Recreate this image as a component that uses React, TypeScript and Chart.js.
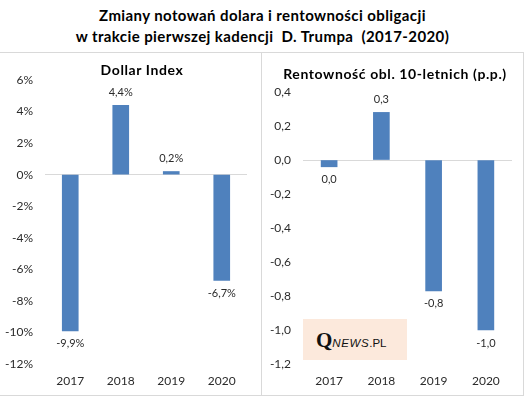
import React, { useEffect, useRef } from 'react';
import { Chart, registerables } from 'chart.js';

Chart.register(...registerables);

// ---- data ----
const years = ['2017', '2018', '2019', '2020'];
const dollarChanges = [-9.9, 4.4, 0.2, -6.7];
const yieldChanges = [-0.04, 0.28, -0.77, -1.0];
const dollarAxis = [-12, 6, 2]; // min, max, step
const yieldAxis = [-1.2, 0.4, 0.2];
const mainTitle = ['Zmiany notowań dolara i rentowności obligacji', 'w trakcie pierwszej kadencji  D. Trumpa  (2017-2020)'];
const leftTitle = 'Dollar Index';
const rightTitle = 'Rentowność obl. 10-letnich (p.p.)';

const FONT = 'Lato, "Liberation Sans", sans-serif';
const BAR = '#4F81BD';
const TXT = '#2b2b2b';
const LINE = '#D9D9D9';

const comma = (v: number, d: number) => {
  const r = Math.abs(v) < Math.pow(10, -d) / 2 ? 0 : v;
  return r.toFixed(d).replace('.', ',');
};

function makeChart(
  canvas: HTMLCanvasElement,
  values: number[],
  axis: number[],
  fmtTick: (v: number) => string,
  fmtLabel: (v: number) => string,
  pad: { top: number; right: number },
  yWidth: number
) {
  const labelPlugin = {
    id: 'valueLabels',
    afterDatasetsDraw(chart: any) {
      const { ctx } = chart;
      const meta = chart.getDatasetMeta(0);
      const data = chart.data.datasets[0].data as number[];
      ctx.save();
      ctx.font = '11px ' + FONT;
      ctx.fillStyle = TXT;
      ctx.textAlign = 'center';
      ctx.textBaseline = 'middle';
      meta.data.forEach((bar: any, i: number) => {
        const v = data[i];
        const y = v >= 0 ? bar.y - 13 : bar.y + 13;
        ctx.fillText(fmtLabel(v), bar.x, y);
      });
      ctx.restore();
    },
  };
  return new Chart(canvas, {
    type: 'bar',
    data: {
      labels: years,
      datasets: [
        {
          data: values,
          backgroundColor: BAR,
          borderWidth: 0,
          barThickness: 16,
        },
      ],
    },
    plugins: [labelPlugin],
    options: {
      responsive: false,
      animation: false,
      devicePixelRatio: 1,
      layout: { padding: { top: pad.top, right: pad.right, left: 0, bottom: 0 } },
      plugins: { legend: { display: false }, tooltip: { enabled: false }, title: { display: false } },
      scales: {
        x: {
          grid: { display: false, drawTicks: false },
          border: { display: false },
          ticks: { color: TXT, font: { family: FONT, size: 12 }, padding: 10 },
          afterFit: (s: any) => {
            s.height = 31;
          },
        },
        y: {
          min: axis[0],
          max: axis[1],
          ticks: {
            stepSize: axis[2],
            color: TXT,
            font: { family: FONT, size: 12 },
            padding: 12,
            callback: (v: any) => fmtTick(Number(v)),
          },
          grid: {
            drawTicks: false,
            color: (c: any) => (c.tick && Math.abs(c.tick.value) < 1e-9 ? LINE : 'rgba(0,0,0,0)'),
            lineWidth: 1,
          },
          border: { display: false },
          afterFit: (s: any) => {
            s.width = yWidth;
          },
        },
      },
    },
  } as any);
}

export default function App() {
  const leftRef = useRef<HTMLCanvasElement>(null);
  const rightRef = useRef<HTMLCanvasElement>(null);

  useEffect(() => {
    const a = makeChart(
      leftRef.current!,
      dollarChanges,
      dollarAxis,
      (v) => `${comma(v, 0)}%`,
      (v) => `${comma(v, 1)}%`,
      { top: 28, right: 14 },
      45
    );
    const b = makeChart(
      rightRef.current!,
      yieldChanges,
      yieldAxis,
      (v) => comma(v, 1),
      (v) => comma(v, 1),
      { top: 40, right: 11 },
      41
    );
    return () => {
      a.destroy();
      b.destroy();
    };
  }, []);

  const abs = (s: React.CSSProperties): React.CSSProperties => ({ position: 'absolute', ...s });

  return (
    <div style={abs({ left: 0, top: 0, width: 525, height: 397, background: '#fff', fontFamily: FONT, overflow: 'hidden' })}>
      <div
        style={abs({
          left: 0,
          top: 5,
          width: 525,
          textAlign: 'center',
          fontWeight: 700,
          fontSize: 15,
          letterSpacing: 0.4,
          lineHeight: '20.5px',
          whiteSpace: 'pre',
          color: '#000',
        })}
      >
        {mainTitle[0]}
        {'\n'}
        {mainTitle[1]}
      </div>
      <div style={abs({ left: 0, top: 52, width: 524, height: 1, background: LINE })} />
      <div style={abs({ left: 261, top: 52, width: 1, height: 344, background: LINE })} />
      <div style={abs({ left: 523, top: 52, width: 1, height: 344, background: LINE })} />
      <div style={abs({ left: 0, top: 395, width: 524, height: 1, background: LINE })} />

      <canvas ref={leftRef} width={261} height={343} style={abs({ left: 0, top: 52, width: 261, height: 343 })} />
      <canvas ref={rightRef} width={261} height={343} style={abs({ left: 262, top: 52, width: 261, height: 343 })} />

      <div style={abs({ left: 62, top: 60, width: 160, textAlign: 'center', fontWeight: 700, fontSize: 14, letterSpacing: 0.6, lineHeight: '20px', color: '#000' })}>
        {leftTitle}
      </div>
      <div style={abs({ left: 265, top: 64, width: 260, textAlign: 'center', fontWeight: 700, fontSize: 14, letterSpacing: 0.6, lineHeight: '20px', color: '#000' })}>
        {rightTitle}
      </div>

      <div style={abs({ left: 303, top: 319, width: 104, height: 41, background: '#FCE9DC' })}>
        <div style={abs({ left: 13, top: 10, whiteSpace: 'nowrap', color: '#111', lineHeight: '22px' })}>
          <span style={{ fontFamily: '"Liberation Serif", serif', fontWeight: 700, fontSize: 21 }}>Q</span>
          <span style={{ fontFamily: '"Liberation Sans", sans-serif', fontStyle: 'italic', fontSize: 11.5, letterSpacing: 0.6 }}>NEWS</span>
          <span style={{ fontFamily: '"Liberation Sans", sans-serif', fontSize: 11.5 }}>.PL</span>
        </div>
      </div>
    </div>
  );
}
